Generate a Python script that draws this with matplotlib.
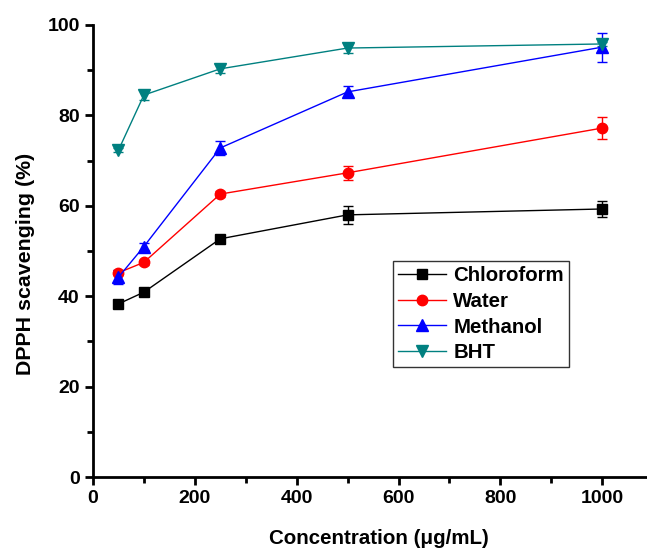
import matplotlib
matplotlib.use("Agg")
import matplotlib.pyplot as plt
from matplotlib.ticker import MultipleLocator

plt.rcParams['font.family'] = ['Liberation Sans', 'DejaVu Sans']
plt.rcParams['font.weight'] = 'bold'

conc = [50, 100, 250, 500, 1000]
chloroform = [38.3, 40.9, 52.7, 58.0, 59.3]
chloroform_err = [0.6, 0.6, 0.9, 2.0, 1.8]
water = [45.2, 47.5, 62.6, 67.3, 77.2]
water_err = [0.6, 0.6, 0.6, 1.5, 2.5]
methanol = [44.2, 51.0, 72.8, 85.2, 95.1]
methanol_err = [1.5, 0.8, 1.6, 1.2, 3.2]
bht = [72.3, 84.5, 90.3, 94.9, 95.8]
bht_err = [0.5, 1.2, 1.0, 1.0, 0.5]

series = [
    ("Chloroform", chloroform, chloroform_err, "black", "s", 7),
    ("Water", water, water_err, "red", "o", 7.5),
    ("Methanol", methanol, methanol_err, "blue", "^", 8.5),
    ("BHT", bht, bht_err, "#008080", "v", 8.5),
]

fig = plt.figure(figsize=(6.47, 5.49), dpi=100)
ax = fig.add_axes([0.1437, 0.131, 0.8563, 0.8235])

handles = []
for name, vals, err, col, mk, ms in series:
    c = ax.errorbar(conc, vals, yerr=err, color=col, marker=mk, markersize=ms,
                    linewidth=1, elinewidth=1, capsize=3.5, capthick=1,
                    label=name)
    handles.append(c[0])

ax.set_xlim(0, 1088)
ax.set_ylim(0, 100)
ax.xaxis.set_major_locator(MultipleLocator(200))
ax.xaxis.set_minor_locator(MultipleLocator(100))
ax.yaxis.set_major_locator(MultipleLocator(20))
ax.yaxis.set_minor_locator(MultipleLocator(10))

for s in ['top', 'right']:
    ax.spines[s].set_visible(False)
for s in ['left', 'bottom']:
    ax.spines[s].set_linewidth(2)

ax.tick_params(which='major', direction='out', length=6, width=2, labelsize=14)
ax.tick_params(which='minor', direction='out', length=4, width=2)
for lab in ax.get_xticklabels() + ax.get_yticklabels():
    lab.set_fontweight('bold')

ax.set_xlabel("Concentration (\u03bcg/mL)", fontsize=14.8, fontweight='bold')
ax.set_ylabel("DPPH scavenging (%)", fontsize=15.4, fontweight='bold')
ax.xaxis.set_label_coords(0.516, -0.115)
ax.yaxis.set_label_coords(-0.105, 0.471)

leg = ax.legend(handles=[h for h in handles],
                labels=[s[0] for s in series],
                loc='upper left', bbox_to_anchor=(0.5415, 0.478), fontsize=14.7,
                frameon=True, fancybox=False, edgecolor='black',
                handlelength=2.35, borderpad=0.25, labelspacing=0.33,
                handletextpad=0.35, borderaxespad=0)
leg.get_frame().set_linewidth(1)
for t in leg.get_texts():
    t.set_fontweight('bold')

fig.savefig("out.png", dpi=100)
